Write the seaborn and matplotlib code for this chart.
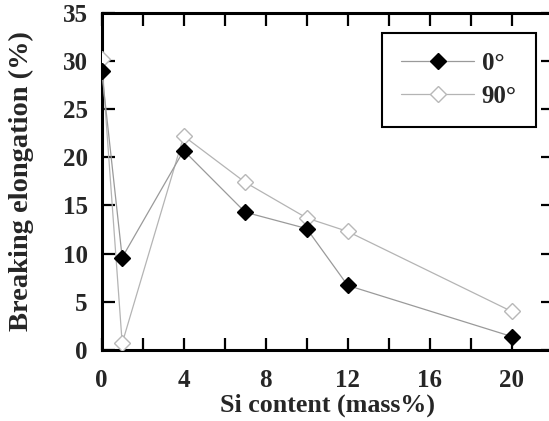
import matplotlib
matplotlib.use("Agg")
import matplotlib.pyplot as plt
import seaborn as sns
import pandas as pd

# Data
si_content = [0, 1, 4, 7, 10, 12, 20]
elong_0 = [29.0, 9.6, 20.7, 14.3, 12.6, 6.7, 1.4]
elong_90 = [30.2, 0.7, 22.2, 17.4, 13.7, 12.3, 4.0]
series_labels = ["0°", "90°"]
x_major = [0, 4, 8, 12, 16, 20]
x_minor = [2, 6, 10, 14, 18]
y_ticks = [0, 5, 10, 15, 20, 25, 30, 35]

sns.set_theme(style="ticks")
plt.rcParams["font.family"] = ["Liberation Serif", "DejaVu Serif"]
plt.rcParams["font.weight"] = "bold"

fig = plt.figure(figsize=(5.49, 4.21), dpi=100)
ax = fig.add_axes([0.1852, 0.1686, 0.8216, 0.8012])

df0 = pd.DataFrame({"x": si_content, "y": elong_0})
df90 = pd.DataFrame({"x": si_content, "y": elong_90})

sns.lineplot(data=df90, x="x", y="y", ax=ax, color="#b4b4b4", lw=0.9,
             marker="D", markersize=7.8, markerfacecolor="white",
             markeredgecolor="#b8b8b8", markeredgewidth=1.0,
             label=series_labels[1], zorder=3)
sns.lineplot(data=df0, x="x", y="y", ax=ax, color="#9a9a9a", lw=0.9,
             marker="D", markersize=7.8, markerfacecolor="black",
             markeredgecolor="black", markeredgewidth=1.0,
             label=series_labels[0], zorder=4)

ax.set_xlim(0, 22)
ax.set_ylim(0, 35)
ax.set_xticks(x_major)
ax.set_xticklabels([str(v) for v in x_major])
ax.set_xticks(x_minor, minor=True)
ax.set_yticks(y_ticks)
ax.set_yticklabels([str(v) for v in y_ticks])

for side in ["left", "right", "top", "bottom"]:
    ax.spines[side].set_visible(True)
    ax.spines[side].set_linewidth(2.2)
    ax.spines[side].set_color("black")

ax.tick_params(axis="both", which="both", direction="in", length=9,
               width=1.6, color="black", top=True, right=True,
               labelsize=18)
ax.tick_params(axis="x", which="both", pad=14)
ax.tick_params(axis="y", which="both", pad=10)
for lab in ax.get_xticklabels() + ax.get_yticklabels():
    lab.set_fontweight("bold")

ax.set_xlabel("Si content (mass%)", fontsize=18.7, fontweight="bold")
ax.set_ylabel("Breaking elongation (%)", fontsize=20.5, fontweight="bold")
ax.xaxis.set_label_coords(0.5, -0.13)
ax.yaxis.set_label_coords(-0.15, 0.5)

handles, labels = ax.get_legend_handles_labels()
order = [labels.index(series_labels[0]), labels.index(series_labels[1])]
leg = ax.legend([handles[i] for i in order], [labels[i] for i in order],
                loc="upper left", bbox_to_anchor=(0.6215, 0.940),
                borderaxespad=0.0,
                frameon=True, fancybox=False, framealpha=1,
                edgecolor="black", handlelength=2.9, handletextpad=0.32,
                borderpad=0.77, labelspacing=0.39,
                prop={"family": ["Liberation Serif"], "weight": "bold", "size": 18})
leg.get_frame().set_linewidth(1.5)

ax.set_facecolor("white")
fig.patch.set_facecolor("white")
fig.savefig("out.png", dpi=100)
